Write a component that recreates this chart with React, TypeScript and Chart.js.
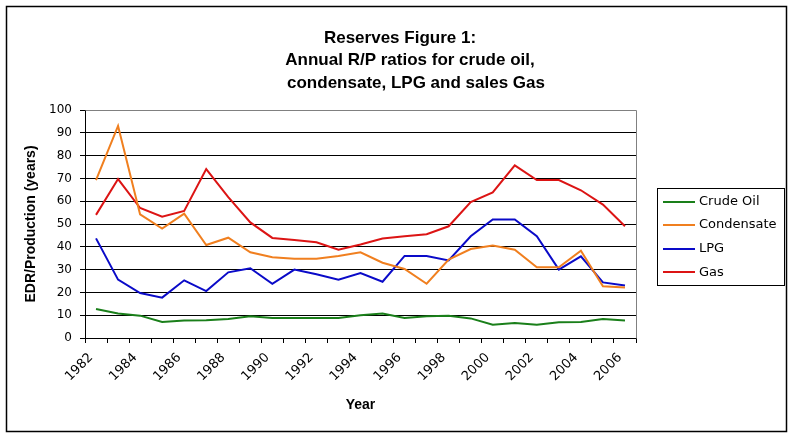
import React, { useEffect, useRef } from "react";
import { Chart, registerables } from "chart.js";

Chart.register(...registerables);

const years = [
  "1982", "1983", "1984", "1985", "1986", "1987", "1988", "1989", "1990", "1991",
  "1992", "1993", "1994", "1995", "1996", "1997", "1998", "1999", "2000", "2001",
  "2002", "2003", "2004", "2005", "2006",
];
const crudeOil = [12.7, 10.7, 9.8, 7, 7.7, 7.8, 8.3, 9.5, 8.8, 8.8, 8.8, 8.8, 10, 10.7, 8.8, 9.5, 9.8, 8.6, 5.8, 6.6, 5.8, 6.9, 7, 8.3, 7.7];
const condensate = [69.2, 93, 54.2, 48, 54.5, 40.8, 44, 37.6, 35.4, 34.8, 34.8, 36, 37.6, 33, 30.3, 23.8, 34.4, 39, 40.6, 38.7, 31, 31, 38.3, 22.7, 22.1];
const lpg = [43.7, 25.6, 19.7, 17.7, 25.3, 20.6, 28.8, 30.6, 23.8, 30, 28, 25.6, 28.5, 24.7, 36, 36, 34, 44.6, 52, 52, 44.6, 30, 35.8, 24.4, 23];
const gas = [54, 69.7, 57, 53.2, 55.7, 74.1, 61.8, 50.7, 43.9, 43, 42, 38.7, 41, 43.6, 44.6, 45.5, 49, 59.6, 63.9, 75.7, 69.3, 69.3, 64.8, 58.5, 49];
const seriesNames = ["Crude Oil", "Condensate", "LPG", "Gas"];
const seriesColors = ["#1a7f1a", "#f07f1f", "#0a0ac8", "#dc1414"];
const titleLines = ["Reserves Figure 1:", "Annual R/P ratios for crude oil,", "condensate, LPG and sales Gas"];
const yTicks = { min: 0, max: 100, step: 10 };

const SANS = "'DejaVu Sans', sans-serif";
const ARIAL = "'Liberation Sans', Arial, sans-serif";

const decorPlugin = {
  id: "decor",
  beforeDraw(chart: any) {
    const ctx = chart.ctx;
    ctx.save();
    ctx.fillStyle = "#fff";
    ctx.fillRect(0, 0, chart.width, chart.height);
    ctx.restore();
  },
  afterDraw(chart: any) {
    const ctx = chart.ctx;
    const ca = chart.chartArea;
    ctx.save();
    // plot area top/right border
    ctx.strokeStyle = "#808080";
    ctx.lineWidth = 1;
    ctx.beginPath();
    ctx.moveTo(Math.round(ca.left) + 0.5, Math.round(ca.top) + 0.5);
    ctx.lineTo(Math.round(ca.right) + 0.5, Math.round(ca.top) + 0.5);
    ctx.lineTo(Math.round(ca.right) + 0.5, Math.round(ca.bottom) + 0.5);
    ctx.stroke();

    // outer frame
    ctx.strokeStyle = "#000";
    ctx.lineWidth = 1.5;
    ctx.strokeRect(6.5, 6.5, 780, 425);

    // title
    ctx.fillStyle = "#000";
    ctx.font = `bold 17px ${ARIAL}`;
    ctx.textAlign = "center";
    ctx.textBaseline = "alphabetic";
    const centers = [400, 410, 416];
    const baselines = [42.5, 65, 87.5];
    titleLines.forEach((t, i) => ctx.fillText(t, centers[i], baselines[i]));

    // legend
    const bx = 657, by = 188, bw = 127, bh = 97;
    ctx.strokeStyle = "#000";
    ctx.lineWidth = 1;
    ctx.strokeRect(bx + 0.5, by + 0.5, bw, bh);
    ctx.font = `13px ${SANS}`;
    ctx.textAlign = "left";
    ctx.textBaseline = "middle";
    chart.data.datasets.forEach((ds: any, i: number) => {
      const y = 201.5 + i * 23.6;
      ctx.strokeStyle = ds.borderColor;
      ctx.lineWidth = 2;
      ctx.beginPath();
      ctx.moveTo(663, Math.round(y));
      ctx.lineTo(695, Math.round(y));
      ctx.stroke();
      ctx.fillStyle = "#000";
      ctx.fillText(ds.label, 699, y);
    });
    ctx.restore();
  },
};

export default function App() {
  const ref = useRef<HTMLCanvasElement>(null);
  useEffect(() => {
    if (!ref.current) return;
    const seriesValues = [crudeOil, condensate, lpg, gas];
    const chart = new Chart(ref.current, {
      type: "line",
      data: {
        labels: years,
        datasets: seriesNames.map((name, i) => ({
          label: name,
          data: seriesValues[i],
          borderColor: seriesColors[i],
          backgroundColor: seriesColors[i],
          borderWidth: 2,
          pointRadius: 0,
          tension: 0,
          fill: false,
        })),
      },
      options: {
        responsive: false,
        animation: false,
        devicePixelRatio: 1,
        layout: { padding: { left: 0, right: 157, top: 110, bottom: 0 } },
        plugins: {
          legend: { display: false },
          title: { display: false },
          tooltip: { enabled: false },
        },
        scales: {
          x: {
            type: "category",
            offset: true,
            grid: {
              offset: true,
              drawOnChartArea: false,
              drawTicks: true,
              tickLength: 5,
              color: "#000",
              tickColor: "#000",
            },
            border: { display: true, color: "#000", width: 1 },
            ticks: {
              autoSkip: false,
              maxRotation: 45,
              minRotation: 45,
              padding: 7,
              labelOffset: -5,
              color: "#000",
              font: { family: SANS, size: 13 },
              callback: (_v: any, i: number) => (i % 2 === 0 ? years[i] : ""),
            },
            title: {
              display: true,
              text: "Year",
              color: "#000",
              font: { family: ARIAL, size: 14, weight: "bold" },
              padding: { top: 0, bottom: 24 },
            },
            afterFit: (s: any) => {
              s.height = 100;
            },
          } as any,
          y: {
            min: yTicks.min,
            max: yTicks.max,
            ticks: {
              stepSize: yTicks.step,
              padding: 8,
              color: "#000",
              font: { family: SANS, size: 12 },
            },
            grid: {
              color: (c: any) => (c.tick && c.tick.value === yTicks.max ? "#808080" : "#000"),
              tickColor: "#000",
              tickLength: 5,
              lineWidth: 1,
            },
            border: { display: true, color: "#000", width: 1 },
            title: {
              display: true,
              text: "EDR/Production (years)",
              color: "#000",
              font: { family: ARIAL, size: 14, weight: "bold" },
              padding: { top: 23, bottom: 0 },
            },
            afterFit: (s: any) => {
              s.width = 85;
            },
          } as any,
        },
      },
      plugins: [decorPlugin],
    });
    return () => chart.destroy();
  }, []);
  return (
    <div style={{ position: "fixed", left: 0, top: 0, width: 793, height: 438, background: "#fff" }}>
      <canvas ref={ref} width={793} height={438} style={{ display: "block", width: 793, height: 438 }} />
    </div>
  );
}
